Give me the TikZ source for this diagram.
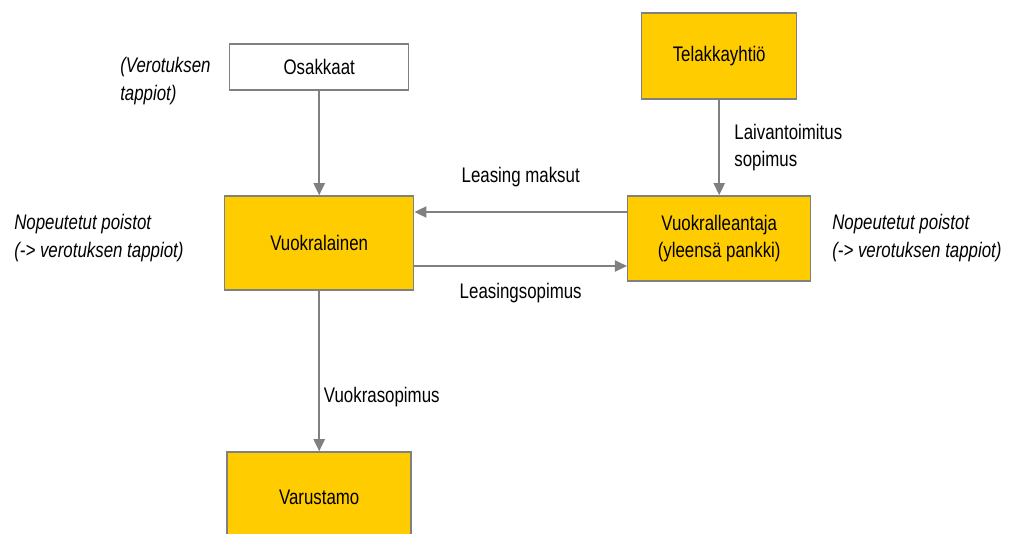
\documentclass[tikz,border=0pt]{standalone}
\usepackage{fontspec}
\setmainfont[FakeStretch=0.8]{Liberation Sans}
\usetikzlibrary{arrows.meta,positioning}

\definecolor{boxyellow}{RGB}{255,204,0}
\definecolor{linegray}{RGB}{128,128,128}

\begin{document}
\begin{tikzpicture}[>={Triangle[length=3mm,width=2.8mm]},node distance=2cm,on grid,
  every node/.style={font=\fontsize{15pt}{19.5pt}\selectfont},
  party/.style={draw=linegray,line width=1.1pt,fill=boxyellow},
  flow/.style={->,draw=linegray,line width=1.1pt},
  sidenote/.style={align=left,inner sep=0pt,font=\fontsize{15pt}{19.5pt}\selectfont\itshape}]
  \useasboundingbox (0,0) rectangle (25.225,-13.325);
  \clip (0,0) rectangle (25.225,-13.325);
  \node[party,minimum width=4.725cm,minimum height=2.35cm]  (vuokralainen) at (7.98,-6.075) {Vuokralainen};
  \node[party,fill=white,minimum width=4.475cm,minimum height=1.15cm] (osakkaat) [above=4.4cm of vuokralainen] {Osakkaat};
  \node[party,minimum width=4.575cm,minimum height=2.125cm,align=center] (vuokralleantaja) [right=10cm of vuokralainen,yshift=1.15mm] {Vuokralleantaja\\(yleensä pankki)};
  \node[party,minimum width=3.875cm,minimum height=2.15cm] (telakka) [above=4.56cm of vuokralleantaja] {Telakkayhtiö};
  \node[party,minimum width=4.6cm,minimum height=2.25cm]   (varustamo) [below=6.35cm of vuokralainen] {Varustamo};

  \coordinate (maksut) at ([yshift=6.6mm]vuokralleantaja.west);
  \coordinate (sopimus) at ([yshift=-5.75mm]vuokralainen.east);
  \draw[flow] (osakkaat) -- (vuokralainen);
  \draw[flow] (telakka) -- node[right,xshift=3.6mm,align=left,inner sep=0pt] {Laivantoimitus\\sopimus} (vuokralleantaja);
  \draw[flow] (maksut) -- node[yshift=8.8mm] {Leasing maksut} (maksut -| vuokralainen.east);
  \draw[flow] (sopimus) -- node[yshift=-6.75mm] {Leasingsopimus} (sopimus -| vuokralleantaja.west);
  \draw[flow] (vuokralainen) -- node[right,pos=0.66,inner sep=1mm] {Vuokrasopimus} (varustamo);

  \node[sidenote,anchor=west] (verotus) at (3.0,-2.03) {(Verotuksen\\tappiot)};
  \node[sidenote,anchor=west] (poistotvasen) at (0.35,-5.95) {Nopeutetut poistot\\(-> verotuksen tappiot)};
  \node[sidenote,anchor=west] (poistotoikea) at (20.8,-5.95) {Nopeutetut poistot\\(-> verotuksen tappiot)};
\end{tikzpicture}
\end{document}
